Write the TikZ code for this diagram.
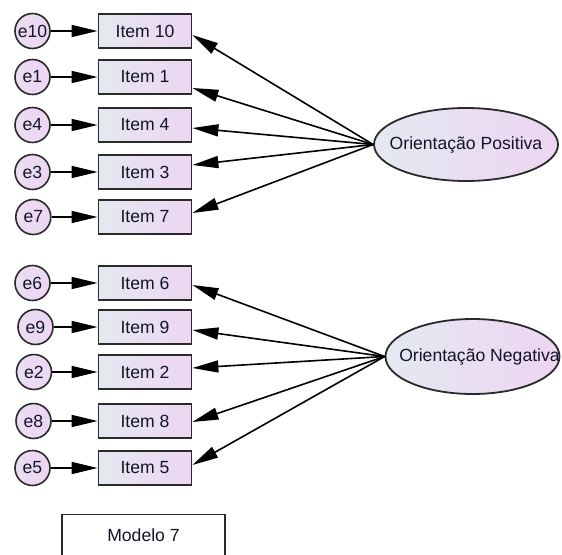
\documentclass[tikz,border=0pt]{standalone}
\usepackage{fontspec}
\setmainfont{Liberation Sans}
\usetikzlibrary{arrows.meta,shapes.geometric}
\definecolor{fillL}{HTML}{E4E9F0}
\definecolor{fillR}{HTML}{EDD5F2}
\definecolor{edgeC}{HTML}{2A2A2A}
\definecolor{inkC}{HTML}{141428}
\begin{document}
\begin{tikzpicture}[x=1pt,y=-1pt,
  font=\fontsize{17.6}{20}\selectfont,
  every node/.style={text=inkC},
  item/.style={draw=edgeC,line width=1.8pt,left color=fillL,right color=fillR,
    minimum width=93pt,minimum height=34pt,inner sep=0pt},
  err/.style={circle,draw=edgeC,line width=1.6pt,left color=fillL!40!fillR,right color=fillR,
    minimum size=35pt,inner sep=0pt},
  latent/.style={ellipse,draw=edgeC,line width=1.8pt,left color=fillL,right color=fillR,inner sep=0pt},
  label box/.style={draw=edgeC,line width=1.8pt,fill=white,minimum width=163pt,minimum height=42pt,inner sep=0pt},
  conn/.style={draw=black,line width=1.6pt,-{Triangle[length=26pt,width=12pt]}}
]
\clip (0,0) rectangle (562,554);

% observed indicators
\node[item] (i10) at (145,31)  {Item 10};
\node[item] (i1)  at (145,77)  {Item 1};
\node[item] (i4)  at (145,125) {Item 4};
\node[item] (i3)  at (145,172) {Item 3};
\node[item] (i7)  at (145,217) {Item 7};
\node[item] (i6)  at (145,283) {Item 6};
\node[item] (i9)  at (145,327) {Item 9};
\node[item] (i2)  at (145,372) {Item 2};
\node[item] (i8)  at (145,421) {Item 8};
\node[item] (i5)  at (145,468) {Item 5};

% error terms
\node[err] (e10) at (32.5,31)  {e10};
\node[err] (e1)  at (32.5,77)  {e1};
\node[err] (e4)  at (32.5,125) {e4};
\node[err] (e3)  at (32.5,172) {e3};
\node[err] (e7)  at (33.3,217) {e7};
\node[err] (e6)  at (32.5,283) {e6};
\node[err] (e9)  at (35.5,327) {e9};
\node[err] (e2)  at (34,372)   {e2};
\node[err] (e8)  at (33.5,421) {e8};
\node[err] (e5)  at (32.5,468) {e5};

% latent factors (zero-width label box so the ellipse keeps its set size)
\node[latent,minimum width=184pt,minimum height=73pt] (pos) at (466,144.5)
  {\makebox[0pt]{Orientação Positiva}};
\node[latent,minimum width=174pt,minimum height=75pt] (neg) at (472.5,356.5)
  {\makebox[0pt]{\hspace{14pt}Orientação Negativa}};

% model label
\node[label box] (model) at (143.5,535.5) {Modelo 7};

% error paths
\foreach \e/\i in {e10/i10,e1/i1,e4/i4,e3/i3,e7/i7,e6/i6,e9/i9,e2/i2,e8/i8,e5/i5}
  \draw[conn] (\e.east) -- (\i.west);

% factor loadings
\draw[conn] (pos.west) -- ([yshift=-4pt]i10.east);
\draw[conn] (pos.west) -- ([yshift=-11pt]i1.east);
\draw[conn] (pos.west) -- ([yshift=-3pt]i4.east);
\draw[conn] (pos.west) -- ([yshift=7pt]i3.east);
\draw[conn] (pos.west) -- ([yshift=4pt]i7.east);
\draw[conn] (neg.west) -- ([yshift=-2pt]i6.east);
\draw[conn] (neg.west) -- ([yshift=-3pt]i9.east);
\draw[conn] (neg.west) -- ([yshift=4pt]i2.east);
\draw[conn] (neg.west) -- ([yshift=-1pt]i8.east);
\draw[conn] (neg.west) -- ([yshift=3pt]i5.east);
\end{tikzpicture}
\end{document}
